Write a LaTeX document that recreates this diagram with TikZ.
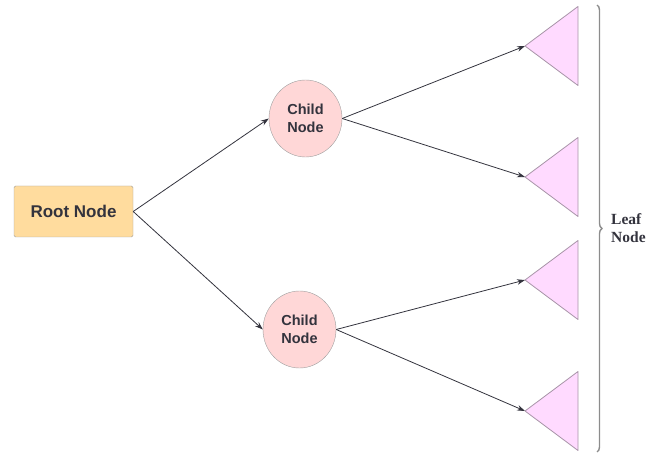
\documentclass[tikz,border=0pt]{standalone}
\usepackage{fontspec}
\setmainfont{Liberation Serif}
\setsansfont{Liberation Sans}
\usepackage{tikz}
\usetikzlibrary{shapes.geometric}
\usetikzlibrary{arrows.meta}
\usetikzlibrary{decorations.pathreplacing}
\definecolor{rootfill}{HTML}{FFDC9E}
\definecolor{childfill}{HTML}{FFD7D7}
\definecolor{leaffill}{HTML}{FFDAFF}
\definecolor{boxline}{HTML}{A0A0A0}
\definecolor{braceline}{HTML}{8C8C8C}
\definecolor{leafline}{HTML}{A894A8}
\definecolor{inkgrey}{HTML}{33333D}
\tikzstyle{rootbox}=[draw=boxline,fill=rootfill,rounded corners=1.5pt,minimum width=119pt,minimum height=51pt,inner sep=0pt,text=inkgrey,font=\sffamily\bfseries\fontsize{17}{20}\selectfont]
\tikzstyle{childnode}=[ellipse,draw=boxline,fill=childfill,minimum width=73pt,minimum height=77pt,inner sep=0pt,align=center,text=inkgrey,font=\sffamily\bfseries\fontsize{14.5}{18}\selectfont]
\tikzstyle{leaf}=[draw=leafline,fill=leaffill,line width=0.8pt,line join=round]
\tikzstyle{edge}=[draw=inkgrey,line width=0.8pt,-{Stealth[length=8pt,width=5.5pt]}]
\tikzstyle{brace}=[draw=braceline,line width=1.4pt,decorate,decoration={brace,amplitude=5pt}]

\begin{document}
\begin{tikzpicture}[x=1pt,y=-1pt]
      \useasboundingbox (0,0) rectangle (661,454);
      % root and children
      \node[rootbox] (root) at (73.5,211.5) {Root Node};
      \node[childnode] (childA) at (305.5,118.5) {Child\\Node};
      \node[childnode] (childB) at (299.5,329.5) {Child\\Node};
      % leaves
      \coordinate (leafA) at (525,46);
      \coordinate (leafB) at (525,177);
      \coordinate (leafC) at (525,280);
      \coordinate (leafD) at (525,411);
      \foreach \t in {leafA,leafB,leafC,leafD}
        \draw[leaf] (\t) -- ++(53,-39.5) -- ++(0,79) -- cycle;
      % edges
      \draw[edge] (root.east) -- (childA.west);
      \draw[edge] (root.east) -- (childB.west);
      \draw[edge] (childA.east) -- (leafA);
      \draw[edge] (childA.east) -- (leafB);
      \draw[edge] (childB.east) -- (leafC);
      \draw[edge] (childB.east) -- (leafD);
      % brace
      \coordinate (braceTop) at (597,5);
      \coordinate (braceEnd) at (597,452);
      \draw[brace] (braceTop) -- (braceEnd);
      \node[anchor=west,align=left,text=inkgrey,inner sep=0pt,font=\bfseries\fontsize{15.5}{18}\selectfont] (leafLabel) at (611,228) {Leaf\\Node};
    \end{tikzpicture}
\end{document}
